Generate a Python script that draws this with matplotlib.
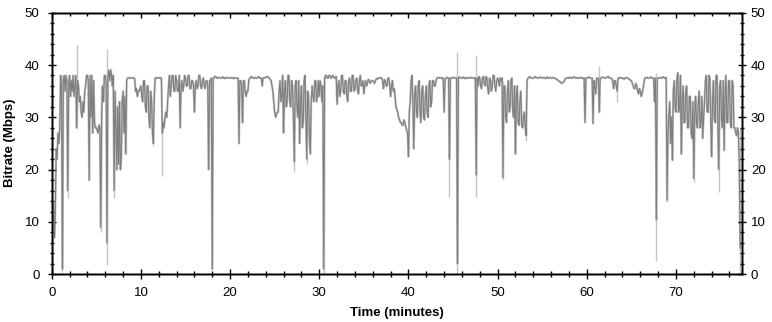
import numpy as np
import matplotlib
matplotlib.use("Agg")
import matplotlib.pyplot as plt
from matplotlib.ticker import MultipleLocator

# Bitrate samples (Mbps), one every 0.1 minutes starting at t = 0 (one row per minute)
sample_step_min = 0.1
bitrate = [
    0.5, 9, 14, 7, 12, 24, 22, 27, 25, 28,
    38, 36, 1, 37, 38, 35, 38, 37, 16, 36,
    38, 34, 37, 35, 38, 34, 36, 38, 28, 37,
    36, 33, 34, 31, 30, 33, 31, 35, 36, 38,
    38, 37, 18, 38, 30, 38, 27, 37, 29, 28,
    28, 27.5, 27, 28.5, 28, 9, 30, 36, 33, 38,
    38, 37, 6, 38, 39, 37, 39, 38, 36, 38,
    16, 35, 28, 20, 32, 21, 33, 20, 22, 33,
    35, 27, 34, 23, 37, 37.5, 37.5, 37.6, 37.5, 37.5,
    37.5, 37.6, 37.5, 37.4, 35, 35.5, 34, 35, 35, 35.5,
    36, 34, 33, 37, 37, 32, 31, 36, 36, 30,
    28, 35, 33, 27, 25, 34, 37.5, 37.5, 37.6, 37.5,
    37.5, 37.6, 37.5, 37.5, 27, 29, 28, 30, 31, 30,
    33, 36, 38, 34, 36, 38, 38, 35, 35, 38,
    37, 35, 35, 38, 28, 36, 37, 35, 36, 38,
    37.5, 36, 36, 38, 38, 35.5, 35.5, 37, 37, 36,
    31, 36, 37, 35.5, 36, 38, 38, 36, 35.5, 37,
    37.5, 36, 35.5, 37, 37, 36, 20, 37, 37, 37.5,
    1, 37.5, 37.5, 37.8, 37.8, 37.5, 37.5, 37.6, 37.6, 37.5,
    37.5, 37.6, 37.7, 37.5, 37.4, 37.6, 37.6, 37.5, 37.5, 37.6,
    37.5, 37.5, 37.6, 37.5, 37.4, 37.6, 37.5, 37.5, 37.5, 37.5,
    25, 37, 37, 36, 29, 37, 37, 35, 34, 35,
    35, 37, 37.5, 37.6, 37.8, 37.6, 37.5, 37.5, 37.6, 37.5,
    37.5, 37.6, 37.8, 37.6, 37.5, 37.5, 36, 37.5, 37.5, 37.6,
    37.6, 37.7, 37.8, 37.6, 37.5, 37.2, 37, 36, 35, 33,
    31, 30, 30.5, 31, 31, 35, 37, 33, 34, 38,
    27, 35, 37, 32, 33, 38, 38, 33, 32, 37,
    36, 30, 21.5, 36, 37, 32, 30, 37, 25, 33,
    36, 28, 29, 37, 38, 30, 22, 35, 34, 26,
    23, 33, 36, 34, 33, 37, 37, 33, 34, 37,
    34, 37, 36, 33, 36, 1, 37.5, 38, 38, 37.5,
    37.5, 38, 38, 37.5, 37.6, 38, 37.8, 37.5, 37.5, 37.8,
    32.5, 36, 37, 34, 35, 38, 38, 35, 34.5, 37,
    37, 34, 33, 37, 37.5, 35, 35, 38, 38, 35,
    35.5, 37, 37.5, 35, 34.5, 37, 38, 36, 36, 37,
    34.5, 36, 37, 36, 36.5, 37.2, 37.2, 36.5, 36.8, 37,
    37, 36.8, 36.5, 37, 37.4, 37.3, 37.5, 37.5, 37.6, 37.5,
    37.5, 37, 35.5, 37.2, 37, 36, 36, 37.5, 37.5, 36,
    34, 36, 37, 35, 35.5, 34, 32, 31.5, 31, 30,
    29.5, 29, 29, 28.5, 28.5, 29.5, 29, 28.3, 27.5, 27,
    22.5, 31, 33, 37, 38, 33, 24, 34, 36, 31,
    30, 36, 37, 31, 29, 35, 36, 30, 29.5, 34,
    36, 31, 30, 36, 37, 32, 33, 37, 37, 36,
    36, 37, 37.5, 37.6, 37.6, 37.5, 37.5, 37.6, 37.4, 37.5,
    31, 37, 37.5, 37.6, 37.6, 37.5, 22, 37.5, 37.5, 37.6,
    37.5, 37.6, 37.6, 37.5, 37.5, 2, 37.5, 37.7, 37.6, 37.5,
    37.5, 37.6, 37.7, 37.5, 37.4, 37.5, 37.6, 37.5, 37.5, 37.6,
    37.6, 37.5, 37.5, 37.6, 37.5, 37.5, 19, 37.5, 36, 37.8,
    37.5, 36, 35.5, 37.5, 37.8, 36.5, 36, 37.8, 37.5, 35.5,
    34.5, 37.5, 37, 35, 36, 38, 38, 36, 35, 37,
    37.5, 37, 36, 37.5, 37, 37.5, 18.5, 36, 36, 30,
    29, 35, 37, 31, 32, 37, 37.5, 31, 30, 36,
    23, 34, 36, 29, 28.5, 33, 35, 28.5, 28, 30,
    31, 28, 26.5, 37, 37.5, 37.6, 37.8, 37.6, 37.5, 37.5,
    37.5, 37.6, 37.8, 37.6, 37.6, 37.5, 37.5, 37.6, 37.7, 37.6,
    37.5, 37.5, 37.6, 37.5, 37.4, 37.6, 37.7, 37.5, 37.5, 37.6,
    37.5, 37.5, 37.6, 37.5, 37.5, 37.4, 37.3, 37.2, 37.0, 36.9,
    36.8, 36.6, 36.5, 36.6, 36.8, 37, 37.4, 37.5, 37.5, 37.6,
    37.5, 37.6, 37.6, 37.5, 37.5, 37.7, 37.7, 37.6, 37.5, 37.5,
    37.6, 37.5, 37.5, 37.6, 37.6, 37.5, 37.4, 37.5, 29, 37.5,
    37.5, 37.6, 37.7, 37.6, 37.5, 37.5, 37.5, 28.8, 37, 36,
    34.5, 37.5, 37.5, 37.4, 31, 37.5, 37.5, 37.6, 37.7, 37.6,
    37.5, 37.5, 37.6, 37.7, 37.8, 37.6, 37.5, 37.5, 37.4, 37,
    35.5, 37, 37, 36, 35, 37.5, 37.5, 37.6, 37.6, 37.5,
    37.5, 37.4, 37.3, 37.5, 37.6, 37.5, 37.5, 37.4, 37.2, 37.1,
    37, 36.5, 36, 35.5, 35.5, 36.5, 36, 35, 34.5, 35.5,
    35, 34, 34.5, 35.5, 36.5, 37.5, 37.5, 37.6, 37.6, 37.5,
    37.5, 37.6, 37.7, 37.5, 37.5, 37.5, 33, 37.5, 10.4, 37.5,
    37.5, 37.5, 37.6, 37.5, 37.5, 37.7, 37.7, 37.5, 37.5, 37.6,
    14.2, 27, 30, 33, 25, 30, 21.8, 35, 37, 32,
    31, 37, 38.5, 31, 32, 38, 23, 33, 36, 29,
    29, 35, 36, 28, 28, 34, 34, 27, 26, 33,
    18.3, 31, 34, 29, 28, 33, 35, 28, 29, 34,
    26, 30, 33, 37, 38, 31, 31, 38, 37.5, 30,
    22.5, 33, 37, 30, 29, 38, 38, 28, 20, 36,
    37, 30, 28, 37, 23.7, 34, 38, 29, 29, 37,
    37, 29, 28, 37, 36, 28, 28, 27, 26.5, 28,
    27, 21, 5,
]

# Peak (light grey) excursions: time (min), low and high values (Mbps)
peak_t = [0.0, 1.2, 1.8, 2.8, 5.5, 6.2, 6.6, 7.0, 8.3, 11.4, 12.4, 27.2, 28.6,
          30.5, 44.6, 45.5, 47.6, 50.6, 53.2, 61.4, 63.4, 67.6, 67.8, 69.0,
          72.0, 74.8, 77.2]
peak_lo = [0, 0.5, 14.5, 28, 8, 1.8, 36, 14.5, 23, 24.5, 18.7, 19.5, 21,
           0, 14.8, 0, 14.8, 18, 25.5, 31, 33, 28.8, 2.5, 13.8,
           17.7, 15.8, 0]
peak_hi = [15, 38, 37, 43.8, 36, 43, 39.5, 30, 35, 33, 30, 36, 34,
           37, 37, 42.5, 42, 37, 31, 39.8, 37, 37, 38.5, 30,
           33, 36, 28]

x_max = 77.4
y_max = 50

time_min = np.arange(len(bitrate)) * sample_step_min

fig = plt.figure(figsize=(7.72, 3.22), dpi=100)
ax = fig.add_axes([0.0670, 0.1481, 0.9611 - 0.0670, 0.9606 - 0.1481])

light = "#c4c4c4"
dark = "#7f7f7f"
ax.plot(time_min, bitrate, color=light, lw=1.6, zorder=1)
ax.vlines(peak_t, peak_lo, peak_hi, color=light, lw=1.0, zorder=2)
ax.plot(time_min, bitrate, color=dark, lw=0.8, zorder=3)

ax.set_xlim(0, x_max)
ax.set_ylim(0, y_max)

font = "Liberation Sans"
for a in (ax.xaxis, ax.yaxis):
    a.set_major_locator(MultipleLocator(10))
    a.set_minor_locator(MultipleLocator(2))

ax.tick_params(axis="x", which="major", direction="inout", length=7, width=1,
               pad=5.6, labelsize=9.5, top=False)
ax.tick_params(axis="x", which="minor", direction="inout", length=4, width=1, top=False)
ax.tick_params(axis="y", which="major", direction="inout", length=6, width=1,
               pad=5.8, labelsize=9.5, right=False)
ax.tick_params(axis="y", which="minor", direction="inout", length=3.4, width=1, right=False)
for lab in ax.get_xticklabels() + ax.get_yticklabels():
    lab.set_fontfamily(font)

# right-hand value axis
axr = ax.twinx()
axr.set_ylim(0, y_max)
axr.yaxis.set_major_locator(MultipleLocator(10))
axr.yaxis.set_minor_locator(MultipleLocator(2))
axr.tick_params(axis="y", which="major", direction="inout", length=6, width=1,
                pad=3.4, labelsize=9.5)
axr.tick_params(axis="y", which="minor", direction="inout", length=3.4, width=1)
for lab in axr.get_yticklabels():
    lab.set_fontfamily(font)

# top time axis: inward ticks only
axt = ax.twiny()
axt.set_xlim(0, x_max)
axt.xaxis.set_major_locator(MultipleLocator(10))
axt.xaxis.set_minor_locator(MultipleLocator(2))
axt.tick_params(axis="x", which="major", direction="in", length=3.4, width=1,
                labeltop=False)
axt.tick_params(axis="x", which="minor", direction="in", length=2, width=1)

for a in (ax, axr, axt):
    for sp in a.spines.values():
        sp.set_linewidth(1)
        sp.set_color("black")

fig.text(397 / 772, 1 - 307 / 322, "Time (minutes)", ha="center", va="top",
         fontsize=9.5, fontweight="bold", family=font)
fig.text(10 / 772, 1 - 143 / 322, "Bitrate (Mbps)", ha="center", va="center",
         rotation=90, fontsize=9.5, fontweight="bold", family=font)

fig.savefig("out.png", dpi=100, facecolor="white")
